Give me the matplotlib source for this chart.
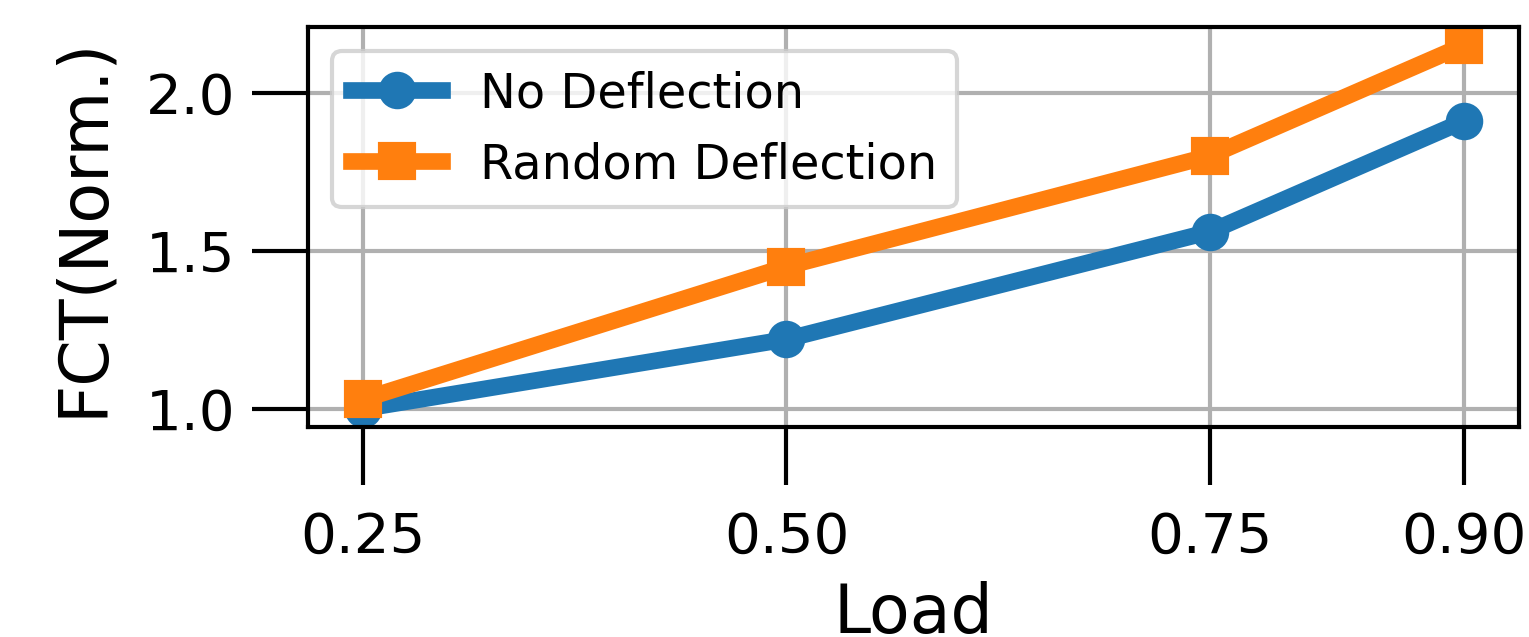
import matplotlib
matplotlib.use('Agg')
import matplotlib.pyplot as plt

# data
load = [0.25, 0.50, 0.75, 0.90]
no_deflection = [1.00, 1.22, 1.56, 1.91]
random_deflection = [1.03, 1.45, 1.80, 2.15]
x_ticklabels = ['0.25', '0.50', '0.75', '0.90']

fig = plt.figure(figsize=(1529 / 300, 637 / 300), dpi=300)
ax = fig.add_axes([308 / 1529, 1 - 427 / 637, (1519 - 308) / 1529, (427 - 27) / 637])

ax.plot(load, no_deflection, marker='o', color='#1f77b4', linewidth=4, markersize=8, label='No Deflection')
ax.plot(load, random_deflection, marker='s', color='#ff7f0e', linewidth=4, markersize=8, label='Random Deflection')

ax.set_xticks(load)
ax.set_xticklabels(x_ticklabels)
ax.set_yticks([1.0, 1.5, 2.0])
ax.tick_params(axis='x', length=14, width=1, labelsize=13.5, pad=6)
ax.tick_params(axis='y', length=13.5, width=1, labelsize=13.5, pad=4)
for s in ax.spines.values():
    s.set_linewidth(1)

ax.grid(True, color='#b0b0b0', linewidth=1)
ax.set_xlabel('Load', fontsize=16, labelpad=4)
ax.set_ylabel('FCT(Norm.)', fontsize=16, labelpad=7)
ax.legend(loc='upper left', fontsize=11.5, handlelength=1.9)

fig.savefig('out.png', dpi=300)
